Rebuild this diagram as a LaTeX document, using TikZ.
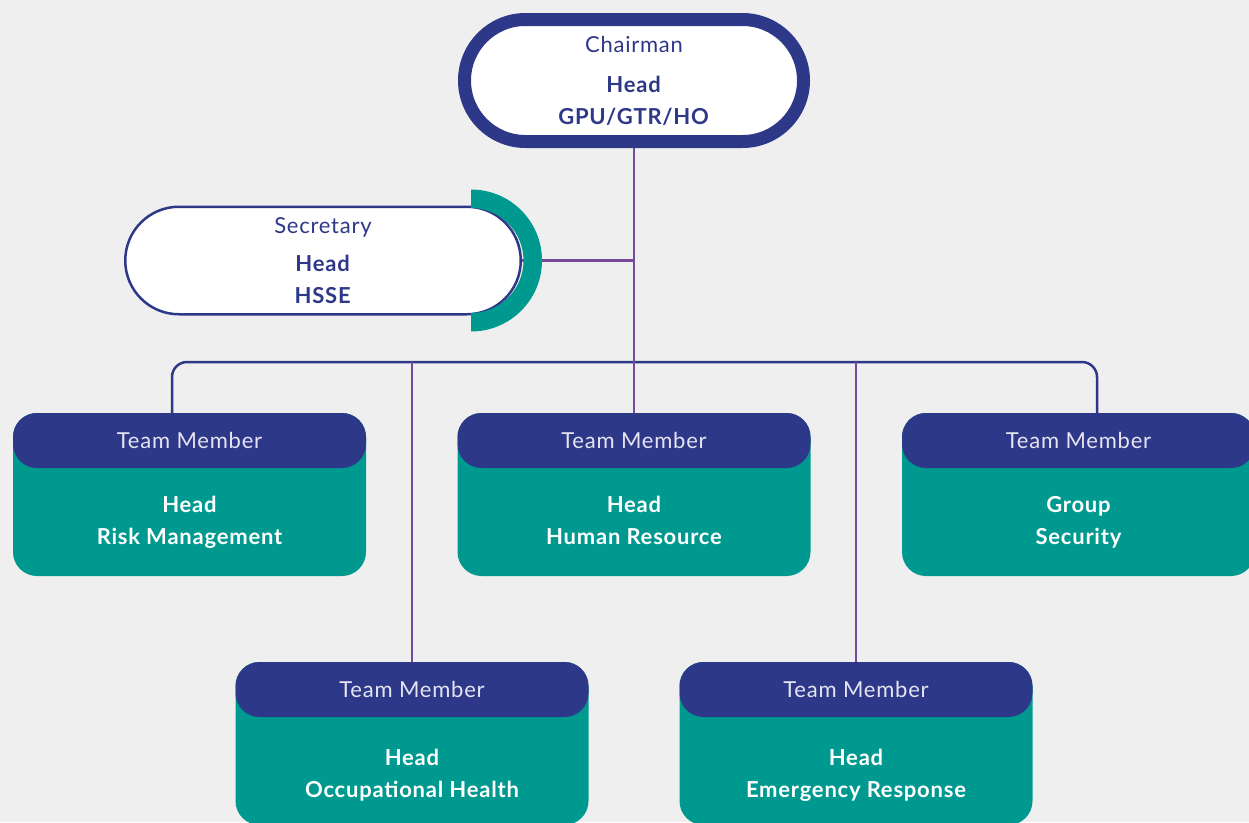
\documentclass[tikz,border=0pt]{standalone}
\usepackage{fontspec}
\setmainfont{Lato}[LetterSpace=3.5]
\usepackage{xcolor}
\usepackage{tikz}
\usetikzlibrary{positioning}

\definecolor{chartnavy}{HTML}{2E3888}
\definecolor{chartteal}{HTML}{00998F}
\definecolor{linkpurple}{HTML}{764A98}
\definecolor{pagegray}{HTML}{EFEFEF}
\definecolor{headtext}{HTML}{E4E4F2}

\begin{document}
\begin{tikzpicture}[x=1pt,y=-1pt,
chairbox/.style={draw=chartnavy,line width=13pt,fill=white,rounded corners=61pt,minimum width=339pt,minimum height=122pt,align=center,text=chartnavy,font=\fontsize{22}{32}\selectfont},
secbox/.style={draw=chartnavy,line width=2.5pt,fill=white,rounded corners=53.7pt,minimum width=395.5pt,minimum height=107.5pt,align=center,text=chartnavy,font=\fontsize{22}{32}\selectfont},
memberbody/.style={fill=chartteal,rounded corners=24pt,minimum width=353pt,minimum height=163pt,inner sep=0pt},
memberhead/.style={fill=chartnavy,rounded corners=24pt,minimum width=353pt,minimum height=55pt,inner sep=0pt,text=headtext,font=\fontsize{22}{26}\selectfont},
membertext/.style={align=center,text=white,text height=16pt,text depth=5pt,inner sep=0pt,font=\fontsize{22}{32}\selectfont\bfseries},
bus/.style={draw=chartnavy,line width=2.5pt,rounded corners=15pt},
link/.style={draw=linkpurple,line width=2.5pt},
ring/.style={fill=chartteal}
]
\fill[pagegray] (0,0) rectangle (1249,822);
\useasboundingbox (0,0) rectangle (1249,822);

% top of the chart
\node[chairbox] (chair) at (634,80.5) {Chairman\\[8pt]\textbf{Head}\\\textbf{GPU/GTR/HO}};
\node[secbox] (secretary) at (323,260.5) {Secretary\\[6pt]\textbf{Head}\\\textbf{HSSE}};

% team members, upper row
\node[memberbody] (rm) at (189.5,494.5) {};
\node[memberhead,anchor=north] (rm-head) at (rm.north) {Team Member};
\node[membertext] (rm-text) at ([yshift=-44pt]rm.center) {Head\\Risk Management};

\node[memberbody] (hr) at (634,494.5) {};
\node[memberhead,anchor=north] (hr-head) at (hr.north) {Team Member};
\node[membertext] (hr-text) at ([yshift=-44pt]hr.center) {Head\\Human Resource};

\node[memberbody] (gs) at (1078.5,494.5) {};
\node[memberhead,anchor=north] (gs-head) at (gs.north) {Team Member};
\node[membertext] (gs-text) at ([yshift=-44pt]gs.center) {Group\\Security};

% team members, lower row
\node[memberbody] (oh) at (412,743.5) {};
\node[memberhead,anchor=north] (oh-head) at (oh.north) {Team Member};
\node[membertext] (oh-text) at ([yshift=-48pt]oh.center) {Head\\Occupational Health};

\node[memberbody] (er) at (856,743.5) {};
\node[memberhead,anchor=north] (er-head) at (er.north) {Team Member};
\node[membertext] (er-text) at ([yshift=-48pt]er.center) {Head\\Emergency Response};

% connectors
\coordinate (busmid) at (634,362);
\draw[bus] ([xshift=-17.5pt]rm-head.north) |- (busmid) -| ([xshift=18.5pt]gs-head.north);
\draw[link] (chair.south) -- (hr-head.north);
\draw[link] (secretary.east) -- (secretary.east -| chair.south);
\draw[link] (oh-head.north) -- (oh-head.north |- busmid);
\draw[link] (er-head.north) -- (er-head.north |- busmid);

% half ring on the secretary
\fill[ring] ([xshift=-51pt,yshift=71pt]secretary.east) arc[start angle=90,end angle=-90,radius=71pt]
  -- ++(0,-18.5) arc[start angle=-90,end angle=90,radius=52.5pt] -- cycle;
\end{tikzpicture}
\end{document}
